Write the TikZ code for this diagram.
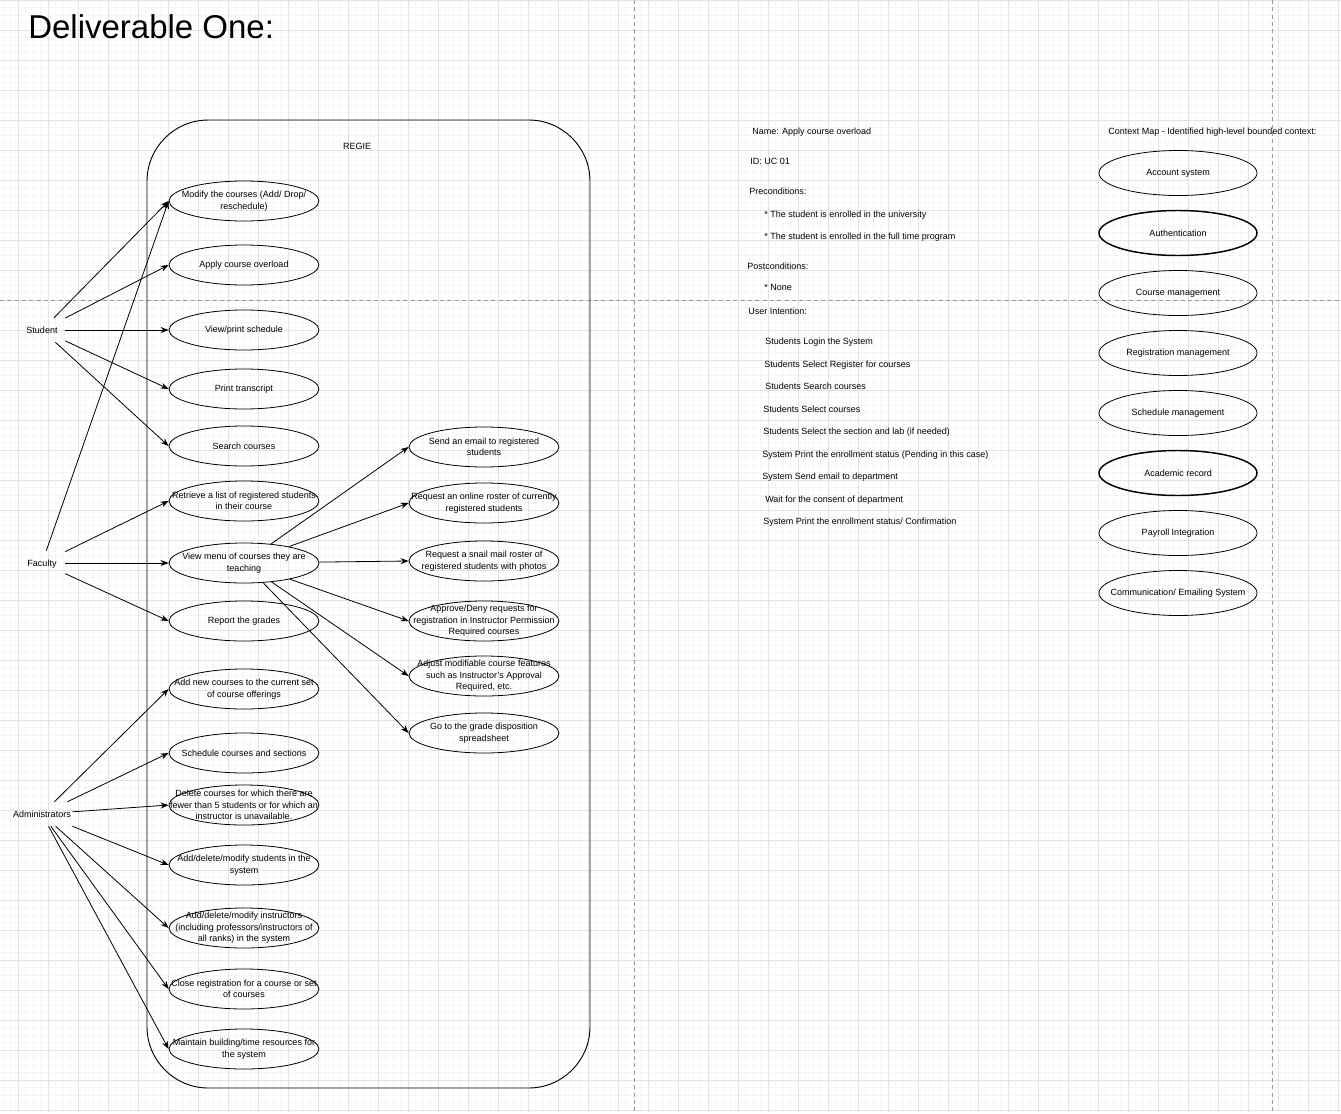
\documentclass[tikz,border=0pt]{standalone}
\usepackage{fontspec}
\setmainfont{Liberation Sans}
\usetikzlibrary{shapes.geometric, arrows.meta}

\newcommand{\smalltxt}{\fontsize{6.75pt}{8.6pt}\selectfont}

\begin{document}
\begin{tikzpicture}[x=0.75pt, y=-0.75pt,
  uc/.style={draw, ellipse, line width=0.6pt, minimum width=112.5pt, minimum height=30pt, inner sep=0pt, label={[uct]center:{#1}}},
  uct/.style={align=center, font=\smalltxt, inner sep=0pt},
  ctx/.style={draw, ellipse, line width=0.6pt, minimum width=118.5pt, minimum height=33.75pt, inner sep=0pt, label={[uct]center:{#1}}},
  act/.style={minimum width=34.5pt, minimum height=18pt, inner sep=1pt, text height=5pt, text depth=0pt, font=\smalltxt},
  note/.style={anchor=west, inner sep=0pt, text height=5pt, text depth=0pt, font=\smalltxt},
  arr/.style={-{Stealth[length=6pt, width=4.5pt]}, line width=0.6pt},
  gmin/.style={draw=black!3.5, line width=0.4pt},
  gmaj/.style={draw=black!11, line width=0.5pt},
  pagebrk/.style={draw=black!40, dash pattern=on 3pt off 2.5pt, line width=0.5pt}]

  \useasboundingbox[fill=white] (0,0) rectangle (1341,1113);

  % grid of the canvas
  \foreach \gx in {3,10.5,...,1341} \draw[gmin] (\gx,0) -- (\gx,1113);
  \foreach \gy in {0,7.5,...,1113} \draw[gmin] (0,\gy) -- (1341,\gy);
  \foreach \gx in {18,48,...,1338} \draw[gmaj] (\gx,0) -- (\gx,1113);
  \foreach \gy in {0,30,...,1110} \draw[gmaj] (0,\gy) -- (1341,\gy);
  \draw[pagebrk] (634,0) -- (634,1113);
  \draw[pagebrk] (1272,0) -- (1272,1113);
  \draw[pagebrk] (0,300) -- (1341,300);

  \node[anchor=west, inner sep=0pt, text height=17pt, text depth=0pt, font=\fontsize{24.75pt}{30pt}\selectfont] (title) at (28,27) {Deliverable One:};

  % system boundary
  \node[draw, line width=0.7pt, rounded corners=46pt, minimum width=332.25pt, minimum height=726pt, inner sep=0pt] (regie) at (368.5,604) {};
  \node[font=\smalltxt, inner sep=0pt] (regielbl) at (357,146) {REGIE};

  % actors
  \node[act] (student) at (42,330) {Student};
  \node[act] (faculty) at (42,563) {Faculty};
  \node[act] (admin) at (42,814) {Administrators};

  % use cases
  \node[uc={Modify the courses (Add/ Drop/\\reschedule)}] (modify) at (244,201) {};
  \node[uc={Apply course overload}] (overload) at (244,265) {};
  \node[uc={View/print schedule}] (viewsch) at (244,330) {};
  \node[uc={Print transcript}] (transcript) at (244,389) {};
  \node[uc={Search courses}] (search) at (244,446) {};
  \node[uc={Retrieve a list of registered students\\in their course}] (retrieve) at (244,501) {};
  \node[uc={View menu of courses they are\\teaching}] (viewmenu) at (244,563) {};
  \node[uc={Report the grades}] (grades) at (244,621) {};
  \node[uc={Add new courses to the current set\\of course offerings}] (addcourse) at (244,689) {};
  \node[uc={Schedule courses and sections}] (schedule) at (244,753) {};
  \node[uc={Delete courses for which there are\\fewer than 5 students or for which an\\instructor is unavailable.}] (delcourse) at (244,805) {};
  \node[uc={Add/delete/modify students in the\\system}] (students) at (244,865) {};
  \node[uc={Add/delete/modify instructors\\(including professors/instructors of\\all ranks) in the system}] (instructors) at (244,928) {};
  \node[uc={Close registration for a course or set\\of courses}] (closereg) at (244,989) {};
  \node[uc={Maintain building/time resources for\\the system}] (resources) at (244,1049) {};

  \node[uc={Send an email to registered\\students}] (email) at (484,447) {};
  \node[uc={Request an online roster of currently\\registered students}] (onlineroster) at (484,503) {};
  \node[uc={Request a snail mail roster of\\registered students with photos}] (mailroster) at (484,561) {};
  \node[uc={Approve/Deny requests for\\registration in Instructor Permission\\Required courses}] (approve) at (484,621) {};
  \node[uc={Adjust modifiable course features\\such as Instructor's Approval\\Required, etc.}] (adjust) at (484,676) {};
  \node[uc={Go to the grade disposition\\spreadsheet}] (gradesheet) at (484,733) {};

  % student
  \draw[arr] (student) -- (modify.west);
  \draw[arr] (student) -- (overload.west);
  \draw[arr] (student) -- (viewsch.west);
  \draw[arr] (student) -- (transcript.west);
  \draw[arr] (student) -- (search.west);
  % faculty
  \draw[arr] (faculty) -- (modify.west);
  \draw[arr] (faculty) -- (retrieve.west);
  \draw[arr] (faculty) -- (viewmenu.west);
  \draw[arr] (faculty) -- (grades.west);
  \draw[arr] (viewmenu) -- (email.west);
  \draw[arr] (viewmenu) -- (onlineroster.west);
  \draw[arr] (viewmenu) -- (mailroster.west);
  \draw[arr] (viewmenu) -- (approve.west);
  \draw[arr] (viewmenu) -- (adjust.west);
  \draw[arr] (viewmenu) -- (gradesheet.west);
  % administrators
  \draw[arr] (admin) -- (addcourse.west);
  \draw[arr] (admin) -- (schedule.west);
  \draw[arr] (admin) -- (delcourse.west);
  \draw[arr] (admin) -- (students.west);
  \draw[arr] (admin) -- (instructors.west);
  \draw[arr] (admin) -- (closereg.west);
  \draw[arr] (admin) -- (resources.west);

  % use case description
  \node[note] (ucname) at (752,131) {Name: Apply course overload};
  \node[note] (ucid) at (750,161) {ID: UC 01};
  \node[note] (pre) at (749,191) {Preconditions:};
  \node[note] (pre1) at (764,214) {* The student is enrolled in the university};
  \node[note] (pre2) at (764,236) {* The student is enrolled in the full time program};
  \node[note] (post) at (747,266) {Postconditions:};
  \node[note] (post1) at (764,287) {* None};
  \node[note] (intent) at (748,311) {User Intention:};
  \node[note] (step1) at (765,341) {Students Login the System};
  \node[note] (step2) at (764,364) {Students Select Register for courses};
  \node[note] (step3) at (765,386) {Students Search courses};
  \node[note] (step4) at (763,409) {Students Select courses};
  \node[note] (step5) at (763,431) {Students Select the section and lab (if needed)};
  \node[note] (step6) at (762,454) {System Print the enrollment status (Pending in this case)};
  \node[note] (step7) at (762,476) {System Send email to department};
  \node[note] (step8) at (765,499) {Wait for the consent of department};
  \node[note] (step9) at (763,521) {System Print the enrollment status/ Confirmation};

  % context map
  \node[note] (ctxtitle) at (1108,131) {Context Map - Identified high-level bounded context:};
  \node[ctx={Account system}] (accsys) at (1178,173) {};
  \node[ctx={Authentication}, line width=1.1pt] (auth) at (1178,233) {};
  \node[ctx={Course management}] (coursemgmt) at (1178,293) {};
  \node[ctx={Registration management}] (regmgmt) at (1178,353) {};
  \node[ctx={Schedule management}] (schedmgmt) at (1178,413) {};
  \node[ctx={Academic record}, line width=1.1pt] (acadrec) at (1178,473) {};
  \node[ctx={Payroll Integration}] (payroll) at (1178,533) {};
  \node[ctx={Communication/ Emailing System}] (comm) at (1178,593) {};
\end{tikzpicture}
\end{document}
